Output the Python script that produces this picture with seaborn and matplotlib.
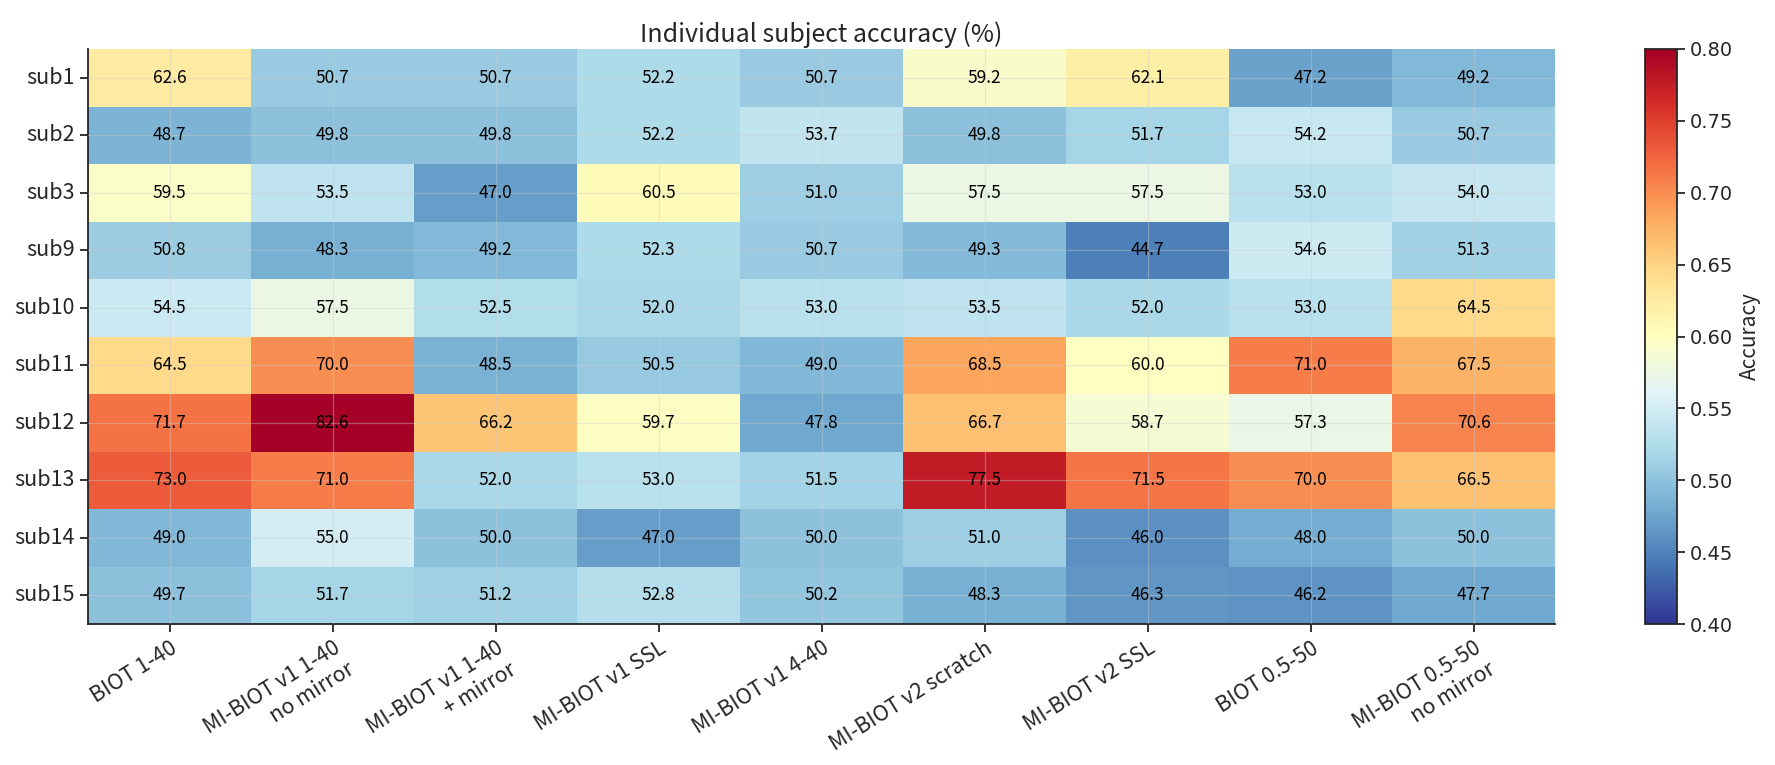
import matplotlib
matplotlib.use("Agg")
import matplotlib.pyplot as plt
import numpy as np
import pandas as pd
import seaborn as sns

subjects = ["sub1", "sub2", "sub3", "sub9", "sub10", "sub11", "sub12", "sub13", "sub14", "sub15"]
models = [
    "BIOT 1-40",
    "MI-BIOT v1 1-40\nno mirror",
    "MI-BIOT v1 1-40\n+ mirror",
    "MI-BIOT v1 SSL",
    "MI-BIOT v1 4-40",
    "MI-BIOT v2 scratch",
    "MI-BIOT v2 SSL",
    "BIOT 0.5-50",
    "MI-BIOT 0.5-50\nno mirror",
]

# accuracy (%) per subject, one list per row
sub1 = [62.6, 50.7, 50.7, 52.2, 50.7, 59.2, 62.1, 47.2, 49.2]
sub2 = [48.7, 49.8, 49.8, 52.2, 53.7, 49.8, 51.7, 54.2, 50.7]
sub3 = [59.5, 53.5, 47.0, 60.5, 51.0, 57.5, 57.5, 53.0, 54.0]
sub9 = [50.8, 48.3, 49.2, 52.3, 50.7, 49.3, 44.7, 54.6, 51.3]
sub10 = [54.5, 57.5, 52.5, 52.0, 53.0, 53.5, 52.0, 53.0, 64.5]
sub11 = [64.5, 70.0, 48.5, 50.5, 49.0, 68.5, 60.0, 71.0, 67.5]
sub12 = [71.7, 82.6, 66.2, 59.7, 47.8, 66.7, 58.7, 57.3, 70.6]
sub13 = [73.0, 71.0, 52.0, 53.0, 51.5, 77.5, 71.5, 70.0, 66.5]
sub14 = [49.0, 55.0, 50.0, 47.0, 50.0, 51.0, 46.0, 48.0, 50.0]
sub15 = [49.7, 51.7, 51.2, 52.8, 50.2, 48.3, 46.3, 46.2, 47.7]

rows = [sub1, sub2, sub3, sub9, sub10, sub11, sub12, sub13, sub14, sub15]
acc = pd.DataFrame(np.array(rows) / 100.0, index=subjects, columns=models)

sns.set_style("ticks")
plt.rcParams["font.family"] = ["Noto Sans CJK SC", "DejaVu Sans"]

fig = plt.figure(figsize=(17.75, 7.65), dpi=100)
W, H = 1775, 765
ax = fig.add_axes([88 / W, 1 - 624 / H, (1555 - 88) / W, (624 - 49) / H])
cax = fig.add_axes([1645 / W, 1 - 624 / H, 32 / W, (624 - 49) / H])

sns.heatmap(
    acc,
    ax=ax,
    cbar_ax=cax,
    cmap="RdYlBu_r",
    vmin=0.4,
    vmax=0.8,
    annot=(acc * 100).round(1),
    fmt=".1f",
    annot_kws={"size": 12.5, "color": "black"},
    cbar_kws={"label": "Accuracy"},
)

ax.set_axisbelow(False)
ax.grid(True, color="#cccccc", alpha=0.4, linewidth=0.9)
for side in ["left", "bottom"]:
    ax.spines[side].set_visible(True)
    ax.spines[side].set_linewidth(1.3)
    ax.spines[side].set_color("#222222")
ax.spines["top"].set_visible(False)
ax.spines["right"].set_visible(False)

ax.set_title("Individual subject accuracy (%)", fontsize=18, pad=5)
ax.set_xlabel("")
ax.set_ylabel("")
ax.tick_params(axis="both", length=6, width=1.3, labelsize=15.5, color="#222222")
ax.set_yticklabels(subjects, rotation=0)
ax.set_xticklabels(models, rotation=32, ha="right", rotation_mode="anchor", multialignment="right")

cticks = [0.40, 0.45, 0.50, 0.55, 0.60, 0.65, 0.70, 0.75, 0.80]
cax.tick_params(length=6, width=1.3, labelsize=14)
cax.set_yticks(cticks)
cax.set_yticklabels([f"{v:.2f}" for v in cticks], family="DejaVu Sans")
cax.yaxis.label.set_size(15)
cbar = ax.collections[0].colorbar
cbar.outline.set_visible(True)
cbar.outline.set_linewidth(1.3)

fig.savefig("out.png", dpi=100)
